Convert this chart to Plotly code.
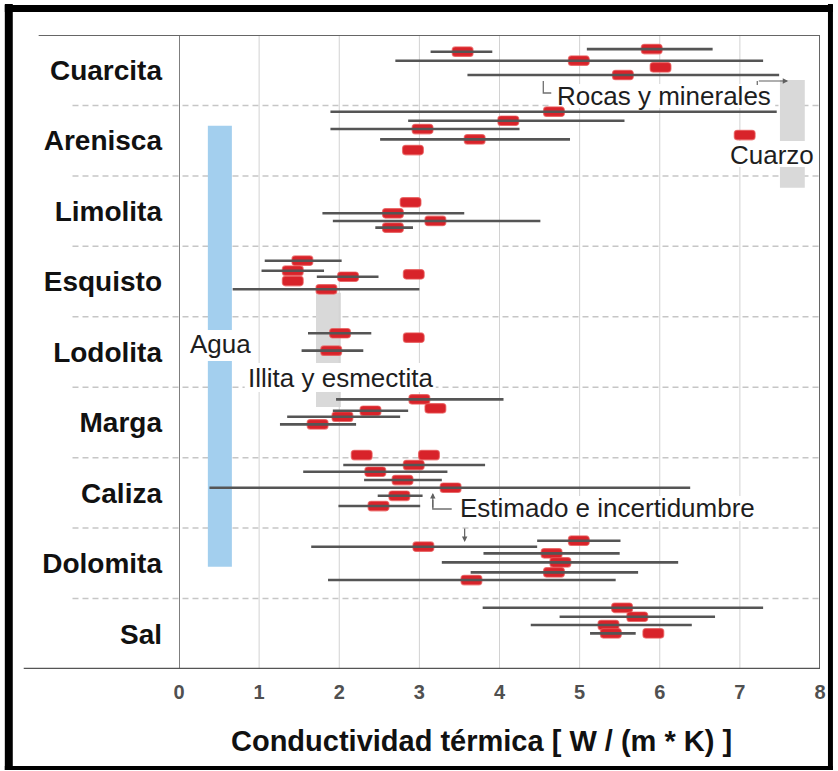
import plotly.graph_objects as go

# Rock types, top to bottom
categories = ["Cuarcita", "Arenisca", "Limolita", "Esquisto", "Lodolita",
              "Marga", "Caliza", "Dolomita", "Sal"]

# One entry per published estimate: rock type, vertical slot inside the
# rock band (0 = top of band), estimate and uncertainty range (W/(m*K))
meas_cat = (["Cuarcita"] * 5 + ["Arenisca"] * 6 + ["Limolita"] * 4 +
            ["Esquisto"] * 6 + ["Lodolita"] * 3 + ["Marga"] * 5 +
            ["Caliza"] * 8 + ["Dolomita"] * 6 + ["Sal"] * 5)
meas_slot = [0.20, 0.237, 0.365, 0.459, 0.568,
             0.089, 0.217, 0.335, 0.42, 0.481, 0.633,
             0.375, 0.531, 0.64, 0.735,
             0.204, 0.346, 0.397, 0.432, 0.493, 0.61,
             0.234, 0.297, 0.481,
             0.172, 0.30, 0.334, 0.419, 0.527,
             -0.037, -0.037, 0.105, 0.20, 0.318, 0.427, 0.541, 0.687,
             0.179, 0.264, 0.358, 0.486, 0.628, 0.737,
             0.131, 0.258, 0.376, 0.494, 0.494]
meas_mean = [5.90, 3.54, 4.99, 6.01, 5.54,
             4.68, 4.11, 3.04, 7.06, 3.69, 2.92,
             2.89, 2.67, 3.20, 2.67,
             1.54, 1.42, 2.93, 2.11, 1.42, 1.84,
             2.01, 2.93, 1.90,
             3.00, 3.20, 2.39, 2.04, 1.73,
             2.28, 3.12, 2.93, 2.45, 2.79, 3.39, 2.75, 2.49,
             4.99, 3.05, 4.65, 4.76, 4.68, 3.65,
             5.53, 5.72, 5.36, 5.39, 5.92]
meas_low = [5.09, 3.14, 2.70, None, 3.60,
            1.89, 2.86, 1.89, None, 2.51, None,
            None, 1.79, 1.92, 2.45,
            1.07, 1.03, None, 1.72, None, 0.67,
            1.61, None, 1.53,
            1.96, None, 1.92, 1.35, 1.26,
            None, None, 2.05, 1.55, 2.31, 0.38, 2.48, 1.99,
            4.47, 1.65, 3.80, 3.28, 3.64, 1.86,
            3.79, 4.75, 4.39, 5.13, None]
meas_high = [6.66, 3.91, 7.29, None, 7.49,
             7.46, 5.56, 4.25, None, 4.88, None,
             None, 3.56, 4.51, 2.92,
             2.03, 1.81, None, 2.49, None, 3.00,
             2.40, None, 2.30,
             4.05, None, 2.86, 2.76, 2.21,
             None, None, 3.82, 3.35, 3.28, 6.38, 3.04, 3.01,
             5.51, 4.47, 5.50, 6.23, 5.73, 5.45,
             7.29, 6.69, 6.40, 5.70, None]

# Reference ranges for pure components (x range in W/(m*K), y span in bands)
ref_names = ["Agua", "Illita y esmectita", "Cuarzo"]
ref_low = [0.36, 1.71, 7.50]
ref_high = [0.66, 2.02, 7.81]
ref_ytop = [7.71, 5.34, 8.36]
ref_ybottom = [1.45, 3.72, 6.83]
ref_colors = ["#a3cfee", "#d9d9d9", "#d9d9d9"]

x_ticks = [0, 1, 2, 3, 4, 5, 6, 7, 8]
x_title = "Conductividad térmica [ W / (m * K) ]"

# ---- layout geometry (pixels) ----
W, H = 838, 771
L, R, T, B = 179, 823, 35, 669
n_cat = len(categories)


def px_x(p):
    return (p - L) / (R - L)


def px_y(p):
    return (B - p) / (B - T)


def dx(p):
    return (p - L) / (R - L) * 8


def dy(p):
    return (B - p) / (B - T) * n_cat


def row_y(cat, slot):
    return n_cat - categories.index(cat) - slot


FONT = "Arial, Liberation Sans, sans-serif"
fig = go.Figure()

# uncertainty ranges
lx, ly = [], []
for c, s, lo, hi in zip(meas_cat, meas_slot, meas_low, meas_high):
    if lo is None:
        continue
    y = row_y(c, s)
    lx += [lo, hi, None]
    ly += [y, y, None]
fig.add_trace(go.Scatter(x=lx, y=ly, mode="lines",
                         line=dict(color="#555555", width=2.6),
                         hoverinfo="skip", showlegend=False))

# estimates (small red boxes)
box_w = 0.26
fig.add_trace(go.Bar(
    orientation="h",
    y=[row_y(c, s) for c, s in zip(meas_cat, meas_slot)],
    x=[box_w] * len(meas_mean),
    base=[m - box_w / 2 for m in meas_mean],
    width=0.135,
    marker=dict(color="#d8232a", line=dict(color="rgba(232,90,90,0.7)", width=1.2)),
    customdata=meas_mean,
    hovertemplate="%{customdata}<extra></extra>",
    showlegend=False))

shapes = []
# reference component bars
for lo, hi, yt, yb, col in zip(ref_low, ref_high, ref_ytop, ref_ybottom, ref_colors):
    shapes.append(dict(type="rect", xref="x", yref="y", x0=lo, x1=hi, y0=yb, y1=yt,
                       fillcolor=col, line=dict(width=0), layer="below"))
# vertical grid
for v in x_ticks[1:-1]:
    shapes.append(dict(type="line", xref="x", yref="y", x0=v, x1=v, y0=0, y1=n_cat,
                       line=dict(color="#d2d2d2", width=1), layer="below"))
# dashed separators between rock types
for k in range(1, n_cat):
    shapes.append(dict(type="line", xref="paper", yref="y", x0=px_x(72), x1=1,
                       y0=k, y1=k, line=dict(color="#c6c6c6", width=1.5, dash="6px,4px"),
                       layer="below"))
# white plates behind the labels
label_boxes = [(186, 256, 330, 361), (245, 437, 363, 392), (728, 821, 141, 167),
               (553, 778, 84, 108), (455, 763, 496, 521)]
for x0, x1, y0, y1 in label_boxes:
    shapes.append(dict(type="rect", xref="x", yref="y", x0=dx(x0), x1=dx(x1),
                       y0=dy(y1), y1=dy(y0), fillcolor="white", line=dict(width=0),
                       layer="below"))
# frame of the plot
shapes += [
    dict(type="line", xref="x", yref="y", x0=0, x1=0, y0=0, y1=n_cat,
         line=dict(color="#555555", width=1.5)),
    dict(type="line", xref="x", yref="y", x0=8, x1=8, y0=0, y1=n_cat,
         line=dict(color="#666666", width=2)),
    dict(type="line", xref="paper", yref="y", x0=px_x(38), x1=1, y0=n_cat, y1=n_cat,
         line=dict(color="#666666", width=2)),
    dict(type="line", xref="paper", yref="y", x0=px_x(23), x1=1, y0=0, y1=0,
         line=dict(color="#555555", width=2.5)),
]
# black outer border
for x0, x1, y0, y1 in [(4, 12, 4, 770), (4, 836, 5, 12), (831, 836, 4, 770), (4, 836, 766, 770)]:
    shapes.append(dict(type="rect", xref="paper", yref="paper", x0=px_x(x0), x1=px_x(x1),
                       y0=px_y(y1), y1=px_y(y0), fillcolor="black", line=dict(width=0)))
# connectors of the labels
conn = [[(545, 81), (545, 93), (553, 93)], [(760, 85), (760, 81)],
        [(453, 509), (434, 509), (434, 500)]]
for pts in conn:
    fig.add_trace(go.Scatter(x=[dx(p[0]) for p in pts], y=[dy(p[1]) for p in pts],
                             mode="lines", line=dict(color="#707070", width=1.3),
                             hoverinfo="skip", showlegend=False))

annotations = []
arrows = [((760, 81), (791, 81)), ((434, 509), (434, 493)), ((466, 527), (466, 542))]
for (t0, t1), (h0, h1) in arrows:
    annotations.append(dict(x=dx(h0), y=dy(h1), ax=dx(t0), ay=dy(t1), xref="x", yref="y",
                            axref="x", ayref="y", text="", showarrow=True,
                            arrowhead=2, arrowsize=0.9, arrowwidth=1.2,
                            arrowcolor="#606060"))

label_pos = [("Agua", 221, 344), ("Illita y esmectita", 341, 378), ("Cuarzo", 775, 155),
             ("Rocas y minerales", 666, 96), ("Estimado e incertidumbre", 609, 508)]
for txt, cx, cy in label_pos:
    annotations.append(dict(x=dx(cx), y=dy(cy), xref="x", yref="y", text=txt,
                            showarrow=False, font=dict(family=FONT, size=26, color="#1e1e1e")))

annotations.append(dict(x=px_x(483), y=px_y(741), xref="paper", yref="paper",
                        xanchor="center", yanchor="middle",
                        text=x_title, showarrow=False,
                        font=dict(family=FONT, size=29, color="#111111", weight="bold")))

fig.update_layout(
    width=W, height=H,
    margin=dict(l=L, r=W - R, t=T, b=H - B, pad=0),
    paper_bgcolor="white", plot_bgcolor="white",
    barmode="overlay", barcornerradius=3,
    shapes=shapes, annotations=annotations,
    xaxis=dict(range=[0, 8], tickvals=x_ticks, ticktext=[str(v) for v in x_ticks],
               showgrid=False, zeroline=False, showline=False, ticks="",
               ticklabelstandoff=9,
               tickfont=dict(family=FONT, size=20, color="#505050", weight="bold")),
    yaxis=dict(range=[0, n_cat], tickvals=[n_cat - i - 0.5 for i in range(n_cat)],
               ticktext=categories, showgrid=False, zeroline=False, showline=False,
               ticks="", ticklabelstandoff=16,
               tickfont=dict(family=FONT, size=28, color="#111111", weight="bold")),
)

fig.write_html("out.html")
